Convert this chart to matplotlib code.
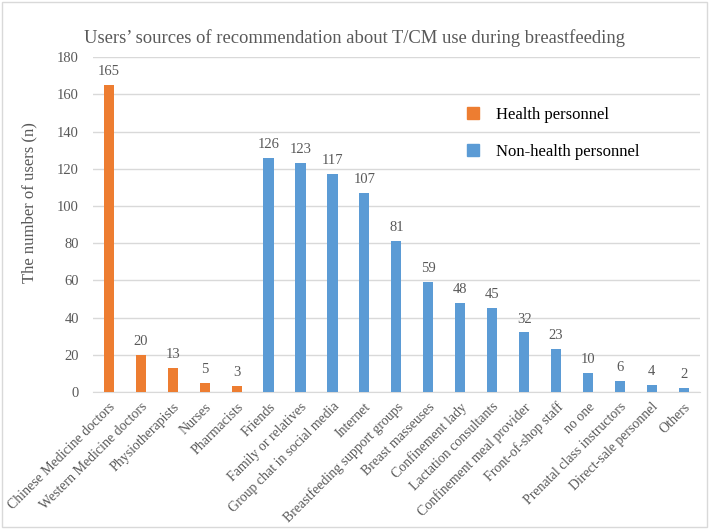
import matplotlib.pyplot as plt
from matplotlib.patches import Patch, Rectangle

plt.rcParams['font.family'] = ['Liberation Serif', 'DejaVu Serif']

categories = ["Chinese Medicine doctors", "Western Medicine doctors", "Physiotherapists",
              "Nurses", "Pharmacists", "Friends", "Family or relatives",
              "Group chat in social media", "Internet", "Breastfeeding support groups",
              "Breast masseuses", "Confinement lady", "Lactation consultants",
              "Confinement meal provider", "Front-of-shop staff", "no one",
              "Prenatal class instructors", "Direct-sale personnel", "Others"]
counts = [165, 20, 13, 5, 3, 126, 123, 117, 107, 81, 59, 48, 45, 32, 23, 10, 6, 4, 2]
is_health = [True] * 5 + [False] * 14

orange = "#ED7D31"
blue = "#5B9BD5"
grey = "#595959"

fig = plt.figure(figsize=(7.09, 5.29), dpi=100)
ax = fig.add_axes([0.131, 0.259, 0.856, 0.633])

colors = [orange if h else blue for h in is_health]
x = range(len(categories))
bars = ax.bar(x, counts, width=0.32, color=colors, zorder=3)
for b, v in zip(bars, counts):
    ax.annotate(str(v), (b.get_x() + b.get_width() / 2, v), xytext=(0, 5),
                textcoords="offset points", ha="center", va="bottom",
                fontsize=10.5, color=grey)

ax.set_xlim(-0.5, len(categories) - 0.5)
ax.set_ylim(0, 180)
ax.set_yticks(range(0, 181, 20))
ax.yaxis.grid(True, color="#D9D9D9", linewidth=1, zorder=0)
for s in ax.spines.values():
    s.set_visible(False)
ax.spines["bottom"].set_visible(True)
ax.spines["bottom"].set_color("#D9D9D9")
ax.tick_params(axis="both", length=0, colors=grey, labelsize=10.5)
ax.tick_params(axis="y", pad=10)
ax.tick_params(axis="x", pad=6)
ax.set_xticks(list(x))
ax.set_xticklabels(categories, rotation=45, ha="right", rotation_mode="anchor",
                   fontsize=10)
ax.set_ylabel("The number of users (n)", fontsize=12, color=grey)
ax.yaxis.set_label_coords(-0.092, 0.567)

fig.text(0.5, 0.928, "Users’ sources of recommendation about T/CM use during breastfeeding",
         ha="center", va="center", fontsize=13.4, color=grey)

handles = [Patch(color=orange, label="Health personnel"),
           Patch(color=blue, label="Non-health personnel")]
fig.legend(handles=handles, loc="upper left", bbox_to_anchor=(0.637, 0.826),
           frameon=False, fontsize=12, handlelength=0.75, handleheight=0.75,
           labelspacing=1.25, handletextpad=1.0)

fig.patches.append(Rectangle((0.003, 0.003), 0.994, 0.994, transform=fig.transFigure,
                             fill=False, edgecolor="#D9D9D9", linewidth=1))

fig.savefig("out.png", dpi=100)
